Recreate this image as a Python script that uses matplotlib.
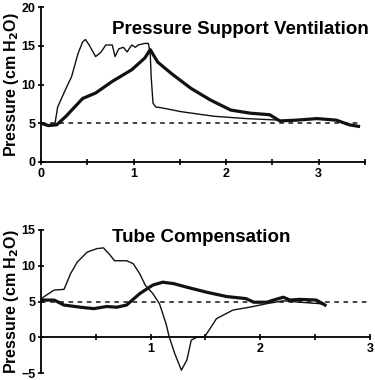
import matplotlib
matplotlib.use('agg')
import matplotlib.pyplot as plt
import numpy as np

plt.rcParams['font.family'] = ['Liberation Sans', 'DejaVu Sans']
plt.rcParams['font.weight'] = 'bold'

# Pressure support ventilation (top)
psv_thin_t = [0, 0.06, 0.15, 0.18, 0.27, 0.33, 0.40, 0.45, 0.48, 0.52, 0.59, 0.65, 0.70, 0.77,
              0.80, 0.84, 0.89, 0.93, 0.98, 1.02, 1.05, 1.12, 1.16, 1.18, 1.19, 1.21, 1.24,
              1.30, 1.51, 1.87, 2.22, 2.58]
psv_thin_p = [5.0, 4.7, 4.9, 7.1, 9.5, 11.0, 14.0, 15.5, 15.8, 15.1, 13.6, 14.2, 15.1, 15.1,
              13.6, 14.6, 14.8, 14.2, 15.1, 14.8, 15.1, 15.3, 15.3, 14.0, 11.0, 7.6, 7.1,
              7.0, 6.5, 5.9, 5.6, 5.4]
psv_thick_t = [0, 0.08, 0.17, 0.27, 0.45, 0.59, 0.77, 0.98, 1.12, 1.18, 1.26, 1.41, 1.62, 1.83,
               2.05, 2.26, 2.47, 2.58, 2.76, 2.98, 3.19, 3.33, 3.43]
psv_thick_p = [5.0, 4.7, 4.8, 5.9, 8.2, 8.9, 10.4, 11.9, 13.4, 14.5, 12.9, 11.4, 9.5, 8.0,
               6.7, 6.3, 6.1, 5.3, 5.4, 5.6, 5.4, 4.8, 4.6]

# Tube compensation (bottom)
tc_thin_t = [0, 0.02, 0.12, 0.21, 0.27, 0.33, 0.42, 0.51, 0.57, 0.63, 0.67, 0.78, 0.84, 0.90,
             0.95, 1.02, 1.08, 1.14, 1.17, 1.22, 1.28, 1.33, 1.37, 1.42, 1.49, 1.60, 1.75,
             1.90, 2.06, 2.21, 2.36, 2.54, 2.59]
tc_thin_p = [4.9, 5.6, 6.6, 6.7, 8.9, 10.5, 11.9, 12.4, 12.5, 11.5, 10.7, 10.7, 10.3, 8.9,
             7.3, 6.1, 4.7, 1.9, 0.0, -2.3, -4.6, -3.2, -0.4, 0.0, 0.0, 2.6, 3.8,
             4.2, 4.7, 5.1, 4.9, 4.7, 4.5]
tc_thick_t = [0, 0.12, 0.21, 0.36, 0.48, 0.60, 0.69, 0.78, 0.90, 1.02, 1.11, 1.21, 1.33, 1.51,
              1.69, 1.87, 1.94, 2.06, 2.12, 2.21, 2.27, 2.36, 2.51, 2.57, 2.59]
tc_thick_p = [5.2, 5.2, 4.5, 4.2, 4.0, 4.3, 4.2, 4.5, 6.1, 7.3, 7.7, 7.5, 7.0, 6.3,
              5.7, 5.4, 4.9, 4.9, 5.2, 5.6, 5.2, 5.3, 5.2, 4.7, 4.5]

W, H = 375, 380
fig = plt.figure(figsize=(W / 100, H / 100), dpi=100)

ax1 = fig.add_axes([41 / W, 218 / H, 324 / W, 155 / H])
ax1.plot(psv_thin_t, psv_thin_p, color='#111111', lw=1.0)
ax1.plot(psv_thick_t, psv_thick_p, color='#111111', lw=2.3)
ax1.plot([0, 3.45], [5, 5], color='#111111', lw=1.1, ls=(0, (3, 3)))
ax1.set_xlim(0, 3.45)
ax1.set_ylim(0, 20)
ax1.set_xticks([0, 1, 2, 3])
ax1.set_xticks([0.5, 1.5, 2.5, 3.5], minor=True)
ax1.set_yticks([0, 5, 10, 15, 20])
ax1.set_ylabel('Pressure (cm H$_\\mathbf{2}$O)', fontsize=11.5, fontweight='bold', labelpad=0)
fig.text(112 / W, 1 - 30 / H, 'Pressure Support Ventilation',
         fontsize=13.5, fontweight='bold', ha='left', va='center')

ax2 = fig.add_axes([41 / W, 7 / H, 329 / W, 143 / H])
ax2.plot(tc_thin_t, tc_thin_p, color='#111111', lw=1.0)
ax2.plot(tc_thick_t, tc_thick_p, color='#111111', lw=2.3)
ax2.plot([0, 3.0], [5, 5], color='#111111', lw=1.1, ls=(0, (3, 3)))
ax2.set_xlim(0, 3.0)
ax2.set_ylim(-5, 15)
ax2.spines['bottom'].set_position(('data', 0))
ax2.set_xticks([1, 2, 3])
ax2.set_xticks([0.5, 1.5, 2.5], minor=True)
ax2.set_yticks([-5, 0, 5, 10, 15])
ax2.set_ylabel('Pressure (cm H$_\\mathbf{2}$O)', fontsize=11.5, fontweight='bold', labelpad=0)
fig.text(112 / W, 1 - 237 / H, 'Tube Compensation',
         fontsize=13.5, fontweight='bold', ha='left', va='center')

for ax in (ax1, ax2):
    ax.spines['top'].set_visible(False)
    ax.spines['right'].set_visible(False)
    ax.spines['left'].set_linewidth(1.3)
    ax.spines['bottom'].set_linewidth(1.3)
    ax.tick_params(which='both', direction='inout', length=4, width=1.2, labelsize=9, pad=2)
    for lab in ax.get_xticklabels() + ax.get_yticklabels():
        lab.set_fontweight('bold')

fig.savefig('out.png', dpi=100)
